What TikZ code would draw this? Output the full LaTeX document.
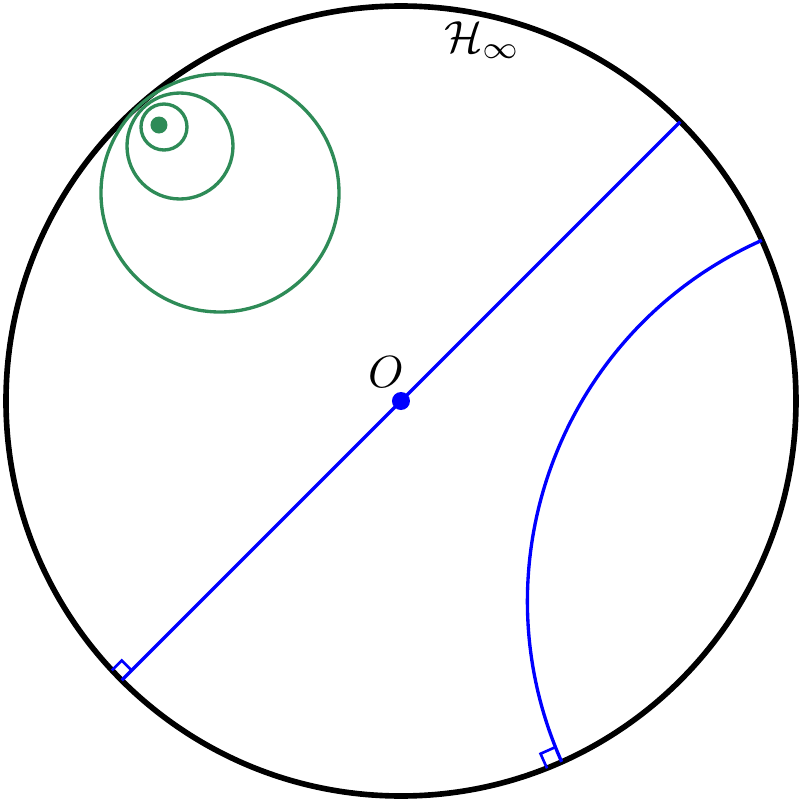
\documentclass[tikz,border=0pt]{standalone}
\usepackage{amsmath}
\usetikzlibrary{calc}
\definecolor{hgreen}{RGB}{46,139,87}
\begin{document}
\begin{tikzpicture}[x=0.01cm,y=0.01cm,
  bound/.style={line width=1.6pt,black},
  geo/.style={line width=0.95pt,blue},
  hcirc/.style={line width=0.95pt,hgreen},
  rmark/.style={line width=0.75pt,blue},
  lbl/.style={inner sep=0pt,scale=1.28}]
\useasboundingbox (-401,-401) rectangle (401,401);
\coordinate (O) at (0,0);
\draw[bound] (O) circle (395);
% diameter
\coordinate (P1) at (45:395);
\coordinate (P2) at (225:395);
\draw[geo] (P1) -- (P2);
% geodesic arc
\coordinate (A) at (24:395);
\coordinate (B) at (-66:395);
\draw[geo] (A) arc[start angle=114,end angle=204,radius=395];
% right angle marks
\draw[rmark] ($(P2)+(45:14)$) -- ++(135:14) -- ++(225:14);
\draw[rmark] ($(B)+(114:16)$) -- ++(204:16) -- ++(294:16);
% center dot
\fill[blue] (O) circle (9);
\node[lbl] (Olab) at (-15,29) {$O$};
\node[lbl] (Hlab) at (82,361) {$\mathcal{H}_\infty$};
% hyperbolic circles
\coordinate (c1) at (-181,208);
\coordinate (c2) at (-221,255);
\coordinate (c3) at (-237,274);
\coordinate (c0) at (-242,276);
\draw[hcirc] (c1) circle (119);
\draw[hcirc] (c2) circle (53);
\draw[hcirc] (c3) circle (23);
\fill[hgreen] (c0) circle (8.5);
\end{tikzpicture}
\end{document}
